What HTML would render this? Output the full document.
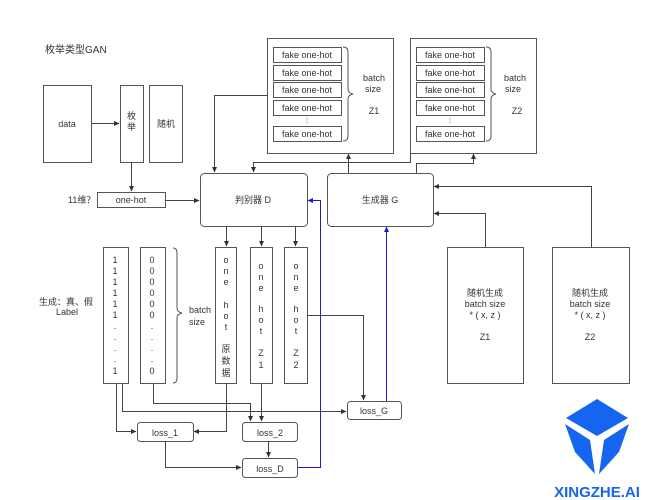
<!DOCTYPE html>
<html><head><meta charset="utf-8"><style>
body{margin:0;background:#fff}
svg{display:block}
text{font-family:"Liberation Sans","Noto Sans CJK SC",sans-serif;font-size:9px;fill:#333}
</style></head><body>
<svg width="650" height="500" viewBox="0 0 650 500">
<defs>
<marker id="a" markerWidth="6" markerHeight="6" refX="5" refY="3" orient="auto"><path d="M0,0.5 L5.5,3 L0,5.5z" fill="#333"/></marker>
<marker id="b" markerWidth="6" markerHeight="6" refX="5" refY="3" orient="auto"><path d="M0,0.5 L5.5,3 L0,5.5z" fill="#1a1ad0"/></marker>
</defs>
<g fill="none" stroke="#555" stroke-width="1">
<rect x="43.5" y="85.5" width="48" height="77"/>
<rect x="120.5" y="85.5" width="23" height="77"/>
<rect x="149.5" y="85.5" width="33" height="77"/>
<rect x="97.5" y="192.5" width="68" height="15"/>
<rect x="200.5" y="173.5" width="107" height="53" rx="4"/>
<rect x="327.5" y="173.5" width="106" height="53" rx="4"/>
<rect x="267.5" y="38.5" width="126" height="115"/>
<rect x="410.5" y="38.5" width="126" height="115"/>
<rect x="273.5" y="47.5" width="68" height="15"/><rect x="273.5" y="65.5" width="68" height="15"/><rect x="273.5" y="82.5" width="68" height="15"/><rect x="273.5" y="100.5" width="68" height="15"/><rect x="273.5" y="126.5" width="68" height="15"/>
<rect x="416.5" y="47.5" width="68" height="15"/><rect x="416.5" y="65.5" width="68" height="15"/><rect x="416.5" y="82.5" width="68" height="15"/><rect x="416.5" y="100.5" width="68" height="15"/><rect x="416.5" y="126.5" width="68" height="15"/>
<path d="M343,47 q5,0 5,5 v37 q0,4 5,5 q-5,1 -5,5 v37 q0,5 -5,5"/>
<path d="M486,47 q5,0 5,5 v37 q0,4 5,5 q-5,1 -5,5 v37 q0,5 -5,5"/>
<rect x="103.5" y="247.5" width="25" height="136"/>
<rect x="140.5" y="247.5" width="25" height="136"/>
<rect x="215.5" y="247.5" width="21" height="136"/>
<rect x="250.5" y="247.5" width="22" height="136"/>
<rect x="284.5" y="247.5" width="23" height="136"/>
<path d="M173,248 q4,0 4,5 v55 q0,4 5,5 q-5,1 -5,5 v60 q0,5 -4,5"/>
<rect x="447.5" y="247.5" width="76" height="136"/>
<rect x="552.5" y="247.5" width="77" height="136"/>
<rect x="137.5" y="422.5" width="56" height="19" rx="3"/>
<rect x="242.5" y="422.5" width="55" height="19" rx="3"/>
<rect x="242.5" y="458.5" width="55" height="19" rx="3"/>
<rect x="347.5" y="401.5" width="54" height="18" rx="3"/>
</g>
<g fill="none" stroke="#444" stroke-width="1">
<path d="M92,123.5 H119" marker-end="url(#a)"/>
<path d="M131.5,162 V191" marker-end="url(#a)"/>
<path d="M165,200.5 H199" marker-end="url(#a)"/>
<path d="M267,95.5 H214.5 V172" marker-end="url(#a)"/>
<path d="M410.5,153 V162.5 H253.5 V172" marker-end="url(#a)"/>
<path d="M348.5,173 V154" marker-end="url(#a)"/>
<path d="M416.5,173 V163.5 H473.5 V154" marker-end="url(#a)"/>
<path d="M591.5,247 V186.5 H434" marker-end="url(#a)"/>
<path d="M485.5,247 V213.5 H434" marker-end="url(#a)"/>
<path d="M226.5,226 V246" marker-end="url(#a)"/>
<path d="M261.5,226 V246" marker-end="url(#a)"/>
<path d="M295.5,226 V246" marker-end="url(#a)"/>
<path d="M116.5,383 V431.5 H136" marker-end="url(#a)"/>
<path d="M122.5,383 V411.5 H346" marker-end="url(#a)"/>
<path d="M153.5,383 V403.5 H250.5 V421" marker-end="url(#a)"/>
<path d="M226.5,383 V431.5 H194" marker-end="url(#a)"/>
<path d="M261.5,383 V421" marker-end="url(#a)"/>
<path d="M307,315.5 H363.5 V400" marker-end="url(#a)"/>
<path d="M268.5,441 V457" marker-end="url(#a)"/>
<path d="M165.5,441 V467.5 H241" marker-end="url(#a)"/>
</g>
<g fill="none" stroke="#1a1ad0" stroke-width="1">
<path d="M298,467.5 H320.5 V200.5 H308" marker-end="url(#b)"/>
<path d="M386.5,401 V227" marker-end="url(#b)"/>
</g>
<text x="45" y="53" style="font-size:10px">枚举类型GAN</text>
<text x="67" y="127" text-anchor="middle">data</text>
<text x="131.5" y="119" text-anchor="middle">枚</text><text x="131.5" y="130" text-anchor="middle">举</text>
<text x="166" y="127" text-anchor="middle">随机</text>
<text x="131" y="203" text-anchor="middle">one-hot</text>
<text x="68" y="203">11维？</text>
<text x="253" y="203" text-anchor="middle">判别器 D</text>
<text x="380" y="203" text-anchor="middle">生成器 G</text>
<g text-anchor="middle">
<text x="307" y="58">fake one-hot</text><text x="307" y="76">fake one-hot</text><text x="307" y="93">fake one-hot</text><text x="307" y="111">fake one-hot</text><text x="307" y="137">fake one-hot</text><text x="307" y="122" style="font-size:6px">⋮</text>
<text x="450" y="58">fake one-hot</text><text x="450" y="76">fake one-hot</text><text x="450" y="93">fake one-hot</text><text x="450" y="111">fake one-hot</text><text x="450" y="137">fake one-hot</text><text x="450" y="122" style="font-size:6px">⋮</text>
<text x="374" y="81">batch</text><text x="373" y="92">size</text><text x="374" y="114">Z1</text>
<text x="515" y="81">batch</text><text x="513" y="92">size</text><text x="517" y="114">Z2</text>
<text x="485" y="296">随机生成</text><text x="485" y="307">batch size</text><text x="485" y="318">* ( x, z )</text><text x="485" y="340">Z1</text>
<text x="590" y="296">随机生成</text><text x="590" y="307">batch size</text><text x="590" y="318">* ( x, z )</text><text x="590" y="340">Z2</text>
<text x="66" y="305">生成：真、假</text><text x="67" y="315">Label</text>
<text x="165" y="436">loss_1</text><text x="270" y="436">loss_2</text><text x="270" y="472">loss_D</text><text x="374" y="414">loss_G</text>
</g>
<g text-anchor="middle">
<text x="115" y="263">1</text><text x="115" y="274">1</text><text x="115" y="285">1</text><text x="115" y="296">1</text><text x="115" y="307">1</text><text x="115" y="318">1</text><text x="115" y="331">·</text><text x="115" y="342">·</text><text x="115" y="353">·</text><text x="115" y="364">·</text><text x="115" y="374">1</text>
<text x="152" y="263">0</text><text x="152" y="274">0</text><text x="152" y="285">0</text><text x="152" y="296">0</text><text x="152" y="307">0</text><text x="152" y="318">0</text><text x="152" y="331">·</text><text x="152" y="342">·</text><text x="152" y="353">·</text><text x="152" y="364">·</text><text x="152" y="374">0</text>
<text x="226" y="263">o</text><text x="226" y="274">n</text><text x="226" y="285">e</text><text x="226" y="308">h</text><text x="226" y="319">o</text><text x="226" y="330">t</text><text x="226" y="352">原</text><text x="226" y="364">数</text><text x="226" y="376">据</text>
<text x="261" y="269">o</text><text x="261" y="280">n</text><text x="261" y="291">e</text><text x="261" y="312">h</text><text x="261" y="323">o</text><text x="261" y="334">t</text><text x="261" y="356">Z</text><text x="261" y="368">1</text>
<text x="296" y="269">o</text><text x="296" y="280">n</text><text x="296" y="291">e</text><text x="296" y="312">h</text><text x="296" y="323">o</text><text x="296" y="334">t</text><text x="296" y="356">Z</text><text x="296" y="368">2</text>
</g>
<text x="189" y="313">batch</text><text x="189" y="325">size</text>
<g fill="#1565f0">
<polygon points="597,399 628,418 597,436 566,418"/>
<polygon points="565,424 590,440 595,474 575,452"/>
<polygon points="629,424 604,440 599,474 619,452"/>
</g>
<text x="597" y="497" text-anchor="middle" style="font-size:15px;font-weight:bold;fill:#1565f0">XINGZHE.AI</text>
</svg>
</body></html>
